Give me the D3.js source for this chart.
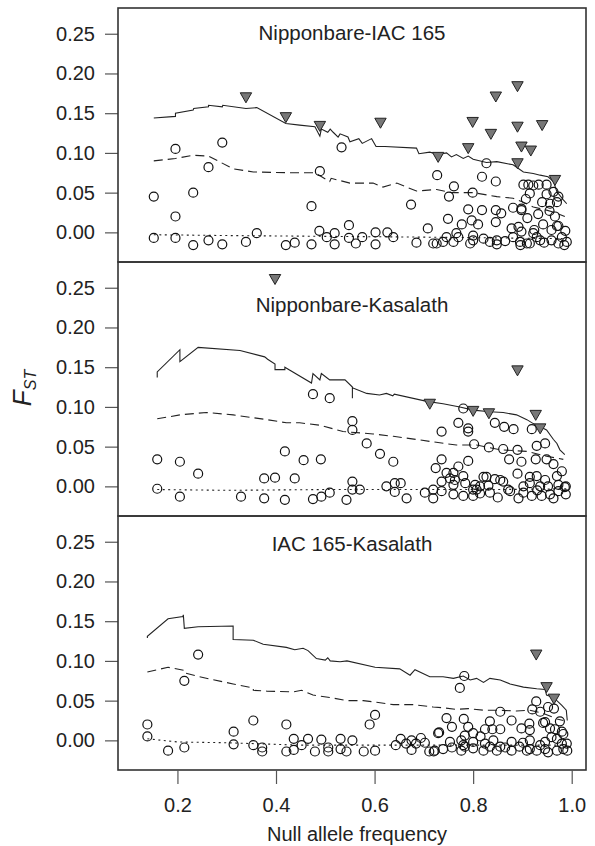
<!DOCTYPE html>
<html>
<head>
<meta charset="utf-8">
<script src="https://cdn.jsdelivr.net/npm/d3@7/dist/d3.min.js"></script>
<style>
  html, body { margin: 0; padding: 0; background: #fff; }
  svg { display: block; }
  text { font-family: "Liberation Sans", Arial, Helvetica, sans-serif; fill: #222; }
</style>
</head>
<body>
<svg id="chart" width="595" height="846"></svg>
<script>
// ---------------- DATA ----------------
const xTicks = [0.2, 0.4, 0.6, 0.8, 1.0];
const yTicks = [0.00, 0.05, 0.10, 0.15, 0.20, 0.25];
const panelTitles = ["Nipponbare-IAC 165", "Nipponbare-Kasalath", "IAC 165-Kasalath"];
const xLabel = "Null allele frequency";

// Panel 1: Nipponbare-IAC 165
const circles1 = [
  [0.152,0.045],[0.196,0.105],[0.196,0.020],[0.232,0.050],[0.263,0.082],[0.291,0.113],
  [0.152,-0.007],[0.196,-0.007],[0.232,-0.016],[0.263,-0.010],[0.291,-0.015],[0.339,-0.012],
  [0.361,-0.001],[0.420,-0.016],[0.438,-0.013],[0.472,0.033],[0.489,0.077],[0.533,0.107],
  [0.488,0.002],[0.503,-0.006],[0.519,-0.001],[0.472,-0.015],[0.519,-0.015],[0.548,0.009],
  [0.548,-0.007],[0.562,-0.014],[0.575,-0.006],[0.602,0.000],[0.602,-0.015],[0.626,0.000],
  [0.638,-0.006],[0.674,0.035],[0.685,-0.013],[0.708,0.005],[0.719,-0.014],
  [0.727,0.072],[0.761,0.058],[0.751,0.045],[0.799,0.050],[0.818,0.070],[0.846,0.064],[0.827,0.087],
  [0.790,0.029],[0.818,0.028],[0.846,0.028],[0.857,0.024],[0.881,0.031],[0.898,0.028],
  [0.749,0.017],[0.777,0.010],[0.797,0.015],[0.810,0.010],[0.846,0.013],
  [0.726,-0.014],[0.739,-0.012],[0.746,-0.006],[0.760,-0.012],[0.766,-0.001],[0.770,-0.006],
  [0.794,-0.014],[0.800,-0.010],[0.800,-0.004],[0.821,-0.008],[0.834,-0.012],[0.848,-0.010],
  [0.848,-0.015],[0.865,-0.011],[0.881,-0.006],[0.895,-0.012],[0.896,-0.016],[0.909,-0.014],
  [0.915,-0.014],[0.878,0.005],[0.892,0.007],[0.898,0.001],[0.922,-0.001],[0.929,-0.006],
  [0.936,-0.010],[0.959,-0.010],[0.973,-0.014],[0.990,-0.012],[0.987,0.002],[0.973,0.008],
  [0.959,0.003],[0.924,0.003],[0.985,-0.016],[0.944,-0.013],[0.980,-0.006],
  [0.902,0.060],[0.912,0.060],[0.922,0.059],[0.933,0.060],[0.949,0.060],
  [0.915,0.049],[0.907,0.042],[0.898,0.030],
  [0.949,0.048],[0.963,0.051],[0.973,0.045],[0.970,0.038],[0.956,0.036],[0.940,0.038],
  [0.932,0.023],[0.942,0.010],[0.966,0.020],[0.970,0.008],[0.910,0.018],[0.955,0.027]
];
const triangles1 = [
  [0.339,0.170],[0.420,0.145],[0.489,0.134],[0.612,0.138],[0.729,0.095],[0.790,0.106],
  [0.799,0.139],[0.836,0.124],[0.846,0.171],[0.890,0.184],[0.890,0.133],[0.890,0.087],
  [0.898,0.108],[0.917,0.103],[0.940,0.135],[0.966,0.066]
];
const upper1 = [
  [0.152,0.144],[0.196,0.146],[0.196,0.150],[0.232,0.154],[0.233,0.156],[0.263,0.158],
  [0.263,0.160],[0.291,0.158],[0.292,0.160],[0.339,0.156],[0.361,0.157],[0.420,0.137],
  [0.448,0.135],[0.479,0.133],[0.489,0.121],[0.492,0.130],[0.505,0.126],[0.510,0.130],
  [0.516,0.126],[0.526,0.120],[0.530,0.124],[0.546,0.120],[0.550,0.114],[0.568,0.118],
  [0.575,0.112],[0.594,0.118],[0.603,0.108],[0.621,0.108],[0.685,0.106],[0.690,0.099],
  [0.712,0.101],[0.729,0.098],[0.746,0.100],[0.756,0.095],[0.766,0.098],[0.780,0.093],
  [0.790,0.096],[0.800,0.092],[0.827,0.088],[0.848,0.089],[0.881,0.085],[0.902,0.076],
  [0.922,0.074],[0.936,0.072],[0.952,0.070],[0.963,0.064],[0.970,0.051],[0.983,0.041],
  [0.990,0.036]
];
const median1 = [
  [0.152,0.090],[0.196,0.093],[0.232,0.097],[0.263,0.096],[0.285,0.089],[0.313,0.080],
  [0.354,0.076],[0.435,0.075],[0.479,0.075],[0.509,0.064],[0.512,0.068],[0.550,0.062],
  [0.597,0.062],[0.617,0.057],[0.645,0.062],[0.685,0.052],[0.726,0.054],[0.756,0.050],
  [0.800,0.050],[0.848,0.045],[0.881,0.043],[0.902,0.038],[0.922,0.032],[0.949,0.028],
  [0.970,0.024],[0.986,0.020]
];
const lower1 = [
  [0.152,-0.003],[0.300,-0.004],[0.500,-0.005],[0.700,-0.006],[0.850,-0.007],[0.990,-0.008]
];

// Panel 2: Nipponbare-Kasalath
const circles2 = [
  [0.159,0.034],[0.205,0.031],[0.242,0.016],[0.159,-0.003],[0.205,-0.013],[0.329,-0.013],
  [0.376,0.010],[0.398,0.011],[0.418,0.044],[0.438,0.010],[0.376,-0.015],[0.418,-0.017],
  [0.456,0.033],[0.491,0.034],[0.475,0.116],[0.509,0.111],[0.555,0.082],[0.555,0.071],
  [0.584,0.054],[0.611,0.041],[0.638,0.031],
  [0.555,0.006],[0.555,-0.004],[0.570,-0.004],[0.475,-0.016],[0.492,-0.013],[0.509,-0.008],
  [0.543,-0.017],[0.624,0.000],[0.641,0.004],[0.653,0.004],[0.641,-0.007],[0.665,-0.015],
  [0.736,0.069],[0.770,0.080],[0.790,0.073],[0.790,0.069],[0.780,0.098],[0.844,0.080],
  [0.863,0.075],[0.882,0.072],[0.919,0.072],
  [0.802,0.053],[0.832,0.049],[0.861,0.047],[0.890,0.046],[0.929,0.051],[0.946,0.054],
  [0.736,0.034],[0.724,0.023],[0.746,0.017],[0.770,0.025],[0.790,0.032],
  [0.873,0.034],[0.898,0.031],[0.927,0.034],[0.949,0.034],[0.963,0.028],[0.980,0.019],
  [0.970,0.013],[0.890,0.016],
  [0.780,0.013],[0.753,0.010],[0.736,0.006],[0.821,0.012],[0.844,0.009],[0.861,0.006],
  [0.915,0.012],[0.929,0.013],[0.946,0.008],[0.760,0.002],[0.784,0.004],[0.804,0.002],
  [0.814,0.000],[0.831,0.001],[0.902,0.000],[0.915,0.004],[0.936,0.000],[0.952,0.000],
  [0.973,0.002],[0.986,-0.001],[0.719,-0.004],[0.736,-0.006],[0.760,-0.010],[0.780,-0.012],
  [0.800,-0.012],[0.814,-0.009],[0.834,-0.008],[0.875,-0.006],[0.902,-0.008],[0.919,-0.012],
  [0.939,-0.012],[0.956,-0.010],[0.973,-0.006],[0.988,-0.010],[0.988,0.000],[0.702,-0.008],
  [0.719,-0.015],[0.763,0.008],[0.827,0.012],[0.855,0.008],[0.892,-0.015],[0.963,-0.015],
  [0.760,0.017],[0.800,-0.004],[0.807,-0.004],[0.871,-0.004],[0.850,-0.014],[0.930,-0.005]
];
const triangles2 = [
  [0.398,0.261],[0.712,0.104],[0.800,0.095],[0.832,0.092],[0.890,0.146],[0.927,0.090],[0.936,0.073]
];
const upper2 = [
  [0.159,0.137],[0.159,0.144],[0.205,0.172],[0.205,0.157],[0.242,0.175],[0.327,0.171],
  [0.377,0.163],[0.383,0.160],[0.398,0.154],[0.398,0.147],[0.418,0.147],[0.418,0.150],
  [0.472,0.130],[0.475,0.142],[0.489,0.134],[0.492,0.142],[0.509,0.134],[0.540,0.134],
  [0.555,0.125],[0.555,0.111],[0.555,0.124],[0.584,0.117],[0.610,0.115],[0.624,0.117],
  [0.637,0.114],[0.640,0.116],[0.706,0.107],[0.739,0.104],[0.773,0.100],[0.800,0.096],
  [0.834,0.094],[0.861,0.093],[0.888,0.090],[0.909,0.084],[0.922,0.079],[0.936,0.075],
  [0.949,0.071],[0.963,0.059],[0.970,0.054],[0.976,0.046],[0.986,0.040]
];
const median2 = [
  [0.159,0.085],[0.205,0.090],[0.259,0.093],[0.313,0.090],[0.381,0.084],[0.421,0.080],
  [0.448,0.080],[0.489,0.077],[0.536,0.069],[0.597,0.066],[0.638,0.063],[0.685,0.059],
  [0.719,0.056],[0.766,0.052],[0.807,0.052],[0.855,0.046],[0.909,0.044],[0.949,0.038],
  [0.983,0.034]
];
const lower2 = [
  [0.159,-0.004],[0.300,-0.005],[0.500,-0.004],[0.700,-0.004],[0.850,-0.004],[0.990,-0.003]
];

// Panel 3: IAC 165-Kasalath
const circles3 = [
  [0.139,0.020],[0.139,0.005],[0.181,-0.013],[0.214,0.075],[0.214,-0.009],[0.242,0.108],
  [0.314,0.011],[0.314,-0.005],[0.354,0.025],[0.354,-0.006],[0.372,-0.009],[0.372,-0.014],
  [0.421,0.020],[0.436,0.002],[0.421,-0.014],[0.436,-0.012],
  [0.452,-0.006],[0.465,0.002],[0.479,-0.014],[0.492,0.001],[0.506,-0.009],[0.506,-0.014],
  [0.531,0.002],[0.531,-0.011],[0.543,-0.014],[0.555,0.000],[0.578,-0.014],[0.601,-0.013],
  [0.601,0.032],[0.590,0.020],
  [0.643,-0.006],[0.653,0.002],[0.664,-0.004],[0.675,0.000],[0.684,-0.004],[0.675,-0.012],
  [0.694,0.003],[0.702,-0.003],[0.711,-0.014],[0.720,-0.014],[0.729,0.009],
  [0.782,0.081],[0.773,0.066],[0.746,0.028],[0.757,0.017],[0.731,0.010],[0.781,0.027],
  [0.790,0.017],[0.800,0.009],[0.783,0.006],[0.776,0.000],[0.834,0.024],[0.824,0.014],
  [0.839,0.014],[0.855,0.014],[0.815,0.005],[0.855,0.036],[0.878,0.025],[0.898,0.015],
  [0.914,0.021],[0.915,0.013],[0.928,0.049],[0.920,0.039],[0.936,0.036],[0.952,0.042],
  [0.964,0.040],[0.976,0.024],[0.946,0.023],
  [0.942,0.022],[0.956,0.015],[0.966,0.014],[0.980,0.011],[0.983,0.008],[0.970,0.002],
  [0.980,-0.004],[0.990,-0.004],[0.959,0.004],[0.946,-0.002],[0.878,-0.002],[0.901,-0.003],
  [0.915,0.000],[0.800,-0.002],[0.824,-0.004],[0.841,0.000],[0.855,-0.008],[0.753,-0.002],
  [0.780,-0.006],
  [0.722,-0.013],[0.739,-0.011],[0.757,-0.009],[0.776,-0.013],[0.783,-0.008],[0.800,-0.010],
  [0.821,-0.013],[0.834,-0.008],[0.848,-0.013],[0.865,-0.009],[0.878,-0.013],[0.909,-0.013],
  [0.915,-0.011],[0.929,-0.013],[0.946,-0.011],[0.952,-0.015],[0.970,-0.013],[0.983,-0.011],
  [0.991,-0.013],[0.894,-0.008],[0.936,-0.006]
];
const triangles3 = [
  [0.928,0.108],[0.949,0.067],[0.964,0.0525]
];
const upper3 = [
  [0.139,0.129],[0.139,0.131],[0.181,0.153],[0.211,0.156],[0.212,0.158],[0.214,0.141],
  [0.242,0.143],[0.313,0.144],[0.313,0.127],[0.354,0.126],[0.374,0.121],[0.421,0.117],
  [0.438,0.114],[0.455,0.116],[0.465,0.113],[0.482,0.103],[0.500,0.101],[0.505,0.104],
  [0.510,0.100],[0.530,0.099],[0.544,0.100],[0.601,0.092],[0.651,0.090],[0.672,0.082],
  [0.682,0.089],[0.712,0.080],[0.739,0.080],[0.760,0.078],[0.780,0.081],[0.794,0.076],
  [0.807,0.078],[0.821,0.073],[0.834,0.078],[0.855,0.076],[0.875,0.071],[0.902,0.067],
  [0.929,0.065],[0.946,0.064],[0.949,0.057],[0.963,0.054],[0.980,0.044],[0.989,0.038],
  [0.991,0.025]
];
const median3 = [
  [0.139,0.086],[0.181,0.092],[0.214,0.088],[0.214,0.085],[0.245,0.080],[0.313,0.071],
  [0.354,0.066],[0.354,0.063],[0.381,0.062],[0.435,0.061],[0.452,0.063],[0.475,0.057],
  [0.509,0.054],[0.544,0.050],[0.577,0.050],[0.604,0.048],[0.638,0.045],[0.678,0.045],
  [0.719,0.042],[0.739,0.041],[0.766,0.039],[0.790,0.040],[0.821,0.038],[0.848,0.038],
  [0.888,0.037],[0.915,0.038],[0.942,0.034],[0.970,0.027],[0.983,0.025]
];
const lower3 = [
  [0.139,0.002],[0.200,-0.002],[0.300,-0.003],[0.450,-0.006],[0.700,-0.006],[0.990,-0.006]
];

// ---------------- LAYOUT ----------------
const panels = [
  { title: panelTitles[0], circles: circles1, triangles: triangles1, upper: upper1, median: median1, lower: lower1, top: 8,   titleY: 40 },
  { title: panelTitles[1], circles: circles2, triangles: triangles2, upper: upper2, median: median2, lower: lower2, top: 262, titleY: 312 },
  { title: panelTitles[2], circles: circles3, triangles: triangles3, upper: upper3, median: median3, lower: lower3, top: 516, titleY: 551 }
];
const panelH = 254;
const left = 118, right = 586;

const svg = d3.select("#chart");
const x = d3.scaleLinear().domain([0.0794, 1.029]).range([left, right]);

const tri = "M-5.7,-4.5 L5.7,-4.5 L0,5.5 Z";

panels.forEach((p, i) => {
  const y = d3.scaleLinear().domain([-0.0373, 0.2824]).range([p.top + panelH, p.top]);
  const g = svg.append("g");

  // y axis
  const ya = g.append("g").attr("transform", `translate(${left},0)`)
    .call(d3.axisLeft(y).tickValues(yTicks).tickFormat(d3.format(".2f")).tickSize(13).tickPadding(10));
  ya.select(".domain").remove();
  ya.selectAll(".tick line").attr("stroke", "#555").attr("stroke-width", 1.2);
  ya.selectAll(".tick text").attr("font-size", 20).attr("fill", "#222")
    .style("font-family", '"Liberation Sans", Arial, sans-serif');

  // lines
  const line = d3.line().x(d => x(d[0])).y(d => y(d[1]));
  g.append("path").datum(p.upper).attr("d", line).attr("fill", "none")
    .attr("stroke", "#222").attr("stroke-width", 1.1);
  g.append("path").datum(p.median).attr("d", line).attr("fill", "none")
    .attr("stroke", "#222").attr("stroke-width", 1.1).attr("stroke-dasharray", "9,5");
  g.append("path").datum(p.lower).attr("d", line).attr("fill", "none")
    .attr("stroke", "#222").attr("stroke-width", 1.1).attr("stroke-dasharray", "2,3.5");

  // circles
  g.selectAll("circle.pt").data(p.circles).enter().append("circle")
    .attr("class", "pt")
    .attr("cx", d => x(d[0])).attr("cy", d => y(d[1])).attr("r", 4.5)
    .attr("fill", "none").attr("stroke", "#111").attr("stroke-width", 1.2);

  // triangles
  g.selectAll("path.tri").data(p.triangles).enter().append("path")
    .attr("class", "tri").attr("d", tri)
    .attr("transform", d => `translate(${x(d[0])},${y(d[1])})`)
    .attr("fill", "#777").attr("stroke", "#222").attr("stroke-width", 1);

  // frame
  g.append("rect").attr("x", left).attr("y", p.top).attr("width", right - left).attr("height", panelH)
    .attr("fill", "none").attr("stroke", "#333").attr("stroke-width", 1.6);

  // title
  g.append("text").attr("x", (left + right) / 2).attr("y", p.titleY)
    .attr("text-anchor", "middle").attr("font-size", 20.5).text(p.title);

  // x axis for bottom panel
  if (i === panels.length - 1) {
    const xa = g.append("g").attr("transform", `translate(0,${p.top + panelH})`)
      .call(d3.axisBottom(x).tickValues(xTicks).tickFormat(d3.format(".1f")).tickSize(14).tickPadding(14));
    xa.select(".domain").remove();
    xa.selectAll(".tick line").attr("stroke", "#555").attr("stroke-width", 1.2);
    xa.selectAll(".tick text").attr("font-size", 20).attr("fill", "#222")
      .style("font-family", '"Liberation Sans", Arial, sans-serif');
  }
});

// axis labels
svg.append("text").attr("x", 357).attr("y", 841).attr("text-anchor", "middle")
  .attr("font-size", 20).text(xLabel);

const yl = svg.append("text").attr("transform", "translate(31,388) rotate(-90)")
  .attr("text-anchor", "middle");
yl.append("tspan").attr("font-size", 26).attr("font-style", "italic").text("F");
yl.append("tspan").attr("font-size", 16).attr("font-style", "italic").attr("dy", 5).text("ST");
</script>
</body>
</html>
